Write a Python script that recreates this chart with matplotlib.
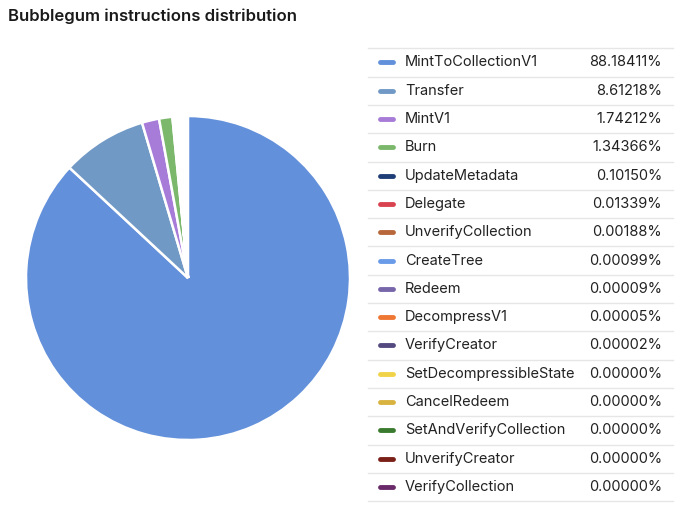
import matplotlib
import matplotlib.pyplot as plt
from matplotlib.lines import Line2D
matplotlib.use('Agg')

# Données du graphique
names = ['MintToCollectionV1', 'Transfer', 'MintV1', 'Burn', 'UpdateMetadata',
         'Delegate', 'UnverifyCollection', 'CreateTree', 'Redeem', 'DecompressV1',
         'VerifyCreator', 'SetDecompressibleState', 'CancelRedeem',
         'SetAndVerifyCollection', 'UnverifyCreator', 'VerifyCollection']
shares = [88.18411, 8.61218, 1.74212, 1.34366, 0.10150, 0.01339, 0.00188,
          0.00099, 0.00009, 0.00005, 0.00002, 0.0, 0.0, 0.0, 0.0, 0.0]
colors = ['#6390da', '#7199c5', '#a77bd8', '#7bb86c', '#1f3e78', '#d8434f',
          '#b8673a', '#6a9be8', '#7766aa', '#ee7733', '#554a80', '#f1d34a',
          '#d9b340', '#3a7a2e', '#7a2018', '#6a2a6a']

plt.rcParams['font.family'] = ['Inter', 'DejaVu Sans']

W, H = 680, 520
fig = plt.figure(figsize=(W / 100, H / 100), dpi=100)

fig.text(8 / W, 1 - 16 / H, 'Bubblegum instructions distribution',
         fontsize=12, fontweight='semibold', color='#1a1a1a', va='center', ha='left')

# Camembert : un petit espacement par secteur (comme le graphique d'origine)
pad_deg = 0.32
scale = 1 - len(shares) * pad_deg / 360
fractions = [s / 100 * scale for s in shares]

cx, cy, r = 188, 278, 162
ax = fig.add_axes([(cx - r) / W, (H - cy - r) / H, 2 * r / W, 2 * r / H])
ax.pie(fractions, colors=colors, startangle=90, counterclock=False, normalize=False,
       wedgeprops=dict(edgecolor='white', linewidth=1.8))
ax.set_aspect('equal')
ax.set_xlim(-1.0, 1.0)
ax.set_ylim(-1.0, 1.0)

# Tableau de légende
top, row_h = 48.3, 28.3
x0, x1 = 368, 673
fig.add_artist(Line2D([x0 / W, x1 / W], [1 - top / H, 1 - top / H], color='#e6e6e6',
                      linewidth=1, transform=fig.transFigure))
for i, (name, val, col) in enumerate(zip(names, shares, colors)):
    yc = 1 - (top + row_h * (i + 0.5)) / H
    yl = 1 - (top + row_h * (i + 1)) / H
    fig.add_artist(Line2D([380 / W, 393 / W], [yc, yc], color=col, linewidth=3.5,
                          solid_capstyle='round', transform=fig.transFigure))
    fig.text(405 / W, yc, name, fontsize=10.5, color='#222222', va='center', ha='left')
    fig.text(662 / W, yc, f'{val:.5f}%', fontsize=10.5, color='#222222',
             va='center', ha='right')
    fig.add_artist(Line2D([x0 / W, x1 / W], [yl, yl], color='#e6e6e6', linewidth=1,
                          transform=fig.transFigure))

fig.savefig('out.png', dpi=100)
plt.close()
